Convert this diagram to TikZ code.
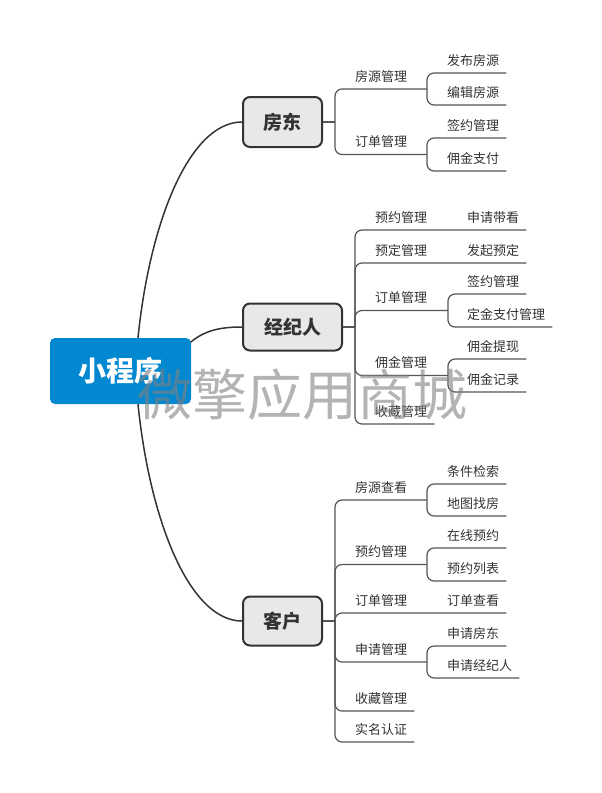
\documentclass[tikz,border=0pt]{standalone}
\usepackage{fontspec}
\setmainfont{Noto Sans CJK SC}
\usepackage{tikz}
\usetikzlibrary{backgrounds}
\definecolor{rootblue}{RGB}{2,136,209}
\definecolor{boxgray}{RGB}{232,232,232}
\definecolor{inkgray}{RGB}{51,51,51}
\definecolor{twiggray}{RGB}{85,85,85}

\begin{document}
\begin{tikzpicture}[x=1pt,y=-1pt,
  rootbox/.style={fill=rootblue,text=white,rounded corners=5pt,minimum width=141pt,minimum height=66pt,font=\bfseries\fontsize{28}{28}\selectfont},
  mainbox/.style={draw=inkgray,fill=boxgray,line width=2pt,rounded corners=7pt,minimum height=49pt,text=inkgray,font=\bfseries\fontsize{19}{19}\selectfont},
  topic/.style={anchor=south west,inner xsep=7pt,inner ysep=6.5pt,text=inkgray,font=\fontsize{13}{13}\selectfont},
  curve/.style={draw=inkgray,line width=1.5pt},
  twig/.style={draw=twiggray,line width=1.2pt,rounded corners=7pt},
  watermark/.style={text=gray,opacity=0.6,font=\fontsize{55}{55}\selectfont}]
\useasboundingbox (0,0) rectangle (602,793);

% root and main topics
\node[rootbox] (app) at (120.5,371) {小程序};
\node[mainbox,minimum width=79pt,minimum height=50pt] (fd) at (282.5,122) {房东};
\node[mainbox,minimum width=99pt,minimum height=47pt] (jjr) at (292.5,327) {经纪人};
\node[mainbox,minimum width=79pt] (kh) at (282.5,621) {客户};

\begin{scope}[on background layer]
\draw[curve] ([xshift=17.5pt]app.north) .. controls (150,220) and (190,122) .. (fd.west);
\draw[curve] ([xshift=-15pt,yshift=13pt]app.east) .. controls (195,332) and (215,327) .. (jjr.west);
\draw[curve] ([xshift=17.5pt]app.south) .. controls (150,522) and (190,621) .. (kh.west);
\end{scope}

% 房东
\coordinate (fdj) at (335,122);
\coordinate (fdfyj) at (427,89);
\coordinate (fdddj) at (427,154.5);
\node[topic] (fdfy) at (348,89) {房源管理};
\node[topic] (fddd) at (348,154.5) {订单管理};
\node[topic] (fdfb) at (440,73) {发布房源};
\node[topic] (fdbj) at (440,105) {编辑房源};
\node[topic] (fdqy) at (440,138) {签约管理};
\node[topic] (fdyj) at (440,171) {佣金支付};
\draw[twig] (fd.east) -- (fdj);
\draw[twig] (fdj) |- (fdfyj);
\draw[twig] (fdj) |- (fdddj);
\draw[twig] (fdfyj) |- (fdfb.south east);
\draw[twig] (fdfyj) |- (fdbj.south east);
\draw[twig] (fdddj) |- (fdqy.south east);
\draw[twig] (fdddj) |- (fdyj.south east);

% 经纪人
\coordinate (jjrj) at (355,327);
\coordinate (jjddj) at (448,310.5);
\coordinate (jjyjj) at (448,375.5);
\node[topic] (jjyy) at (368,230) {预约管理};
\node[topic] (jjyd) at (368,263) {预定管理};
\node[topic] (jjdd) at (368,310.5) {订单管理};
\node[topic] (jjyj) at (368,375.5) {佣金管理};
\node[topic] (jjsc) at (368,424) {收藏管理};
\node[topic] (jjsq) at (460,230) {申请带看};
\node[topic] (jjfq) at (460,263) {发起预定};
\node[topic] (jjqy) at (460,294) {签约管理};
\node[topic] (jjdz) at (460,327) {定金支付管理};
\node[topic] (jjtx) at (460,359) {佣金提现};
\node[topic] (jjjl) at (460,392) {佣金记录};
\draw[twig] (jjr.east) -- (jjrj);
\draw[twig] (jjrj) |- (jjsq.south east);
\draw[twig] (jjrj) |- (jjfq.south east);
\draw[twig] (jjrj) |- (jjddj);
\draw[twig] (jjrj) |- (jjyjj);
\draw[twig] (jjrj) |- (jjsc.south east);
\draw[twig] (jjddj) |- (jjqy.south east);
\draw[twig] (jjddj) |- (jjdz.south east);
\draw[twig] (jjyjj) |- (jjtx.south east);
\draw[twig] (jjyjj) |- (jjjl.south east);

% 客户
\coordinate (khj) at (335,621);
\coordinate (khfcj) at (427,500);
\coordinate (khyyj) at (427,564.5);
\coordinate (khsqj) at (427,662);
\node[topic] (khfc) at (348,500) {房源查看};
\node[topic] (khyy) at (348,564.5) {预约管理};
\node[topic] (khdd) at (348,613) {订单管理};
\node[topic] (khsq) at (348,662) {申请管理};
\node[topic] (khsc) at (348,711) {收藏管理};
\node[topic] (khrz) at (348,742) {实名认证};
\node[topic] (khtj) at (440,484) {条件检索};
\node[topic] (khdt) at (440,516) {地图找房};
\node[topic] (khzx) at (440,548) {在线预约};
\node[topic] (khlb) at (440,581) {预约列表};
\node[topic] (khck) at (440,613) {订单查看};
\node[topic] (khfd) at (440,646) {申请房东};
\node[topic] (khjj) at (440,678) {申请经纪人};
\draw[twig] (kh.east) -- (khj);
\draw[twig] (khj) |- (khfcj);
\draw[twig] (khj) |- (khyyj);
\draw[twig] (khj) |- (khck.south east);
\draw[twig] (khj) |- (khsqj);
\draw[twig] (khj) |- (khsc.south east);
\draw[twig] (khj) |- (khrz.south east);
\draw[twig] (khfcj) |- (khtj.south east);
\draw[twig] (khfcj) |- (khdt.south east);
\draw[twig] (khyyj) |- (khzx.south east);
\draw[twig] (khyyj) |- (khlb.south east);
\draw[twig] (khsqj) |- (khfd.south east);
\draw[twig] (khsqj) |- (khjj.south east);

\node[watermark] (wm) at (302,395) {微擎应用商城};
\end{tikzpicture}
\end{document}
